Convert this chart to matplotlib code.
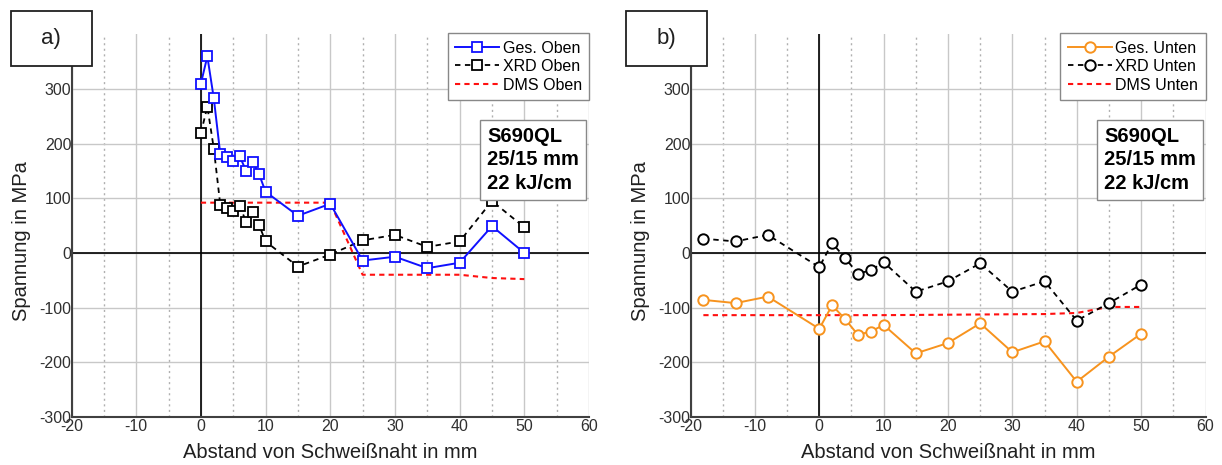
import matplotlib
matplotlib.use("Agg")
import matplotlib.pyplot as plt
from matplotlib.patches import Rectangle
from matplotlib.ticker import MultipleLocator

plt.rcParams['font.family'] = ['Liberation Sans', 'DejaVu Sans']
plt.rcParams['axes.unicode_minus'] = False

# Panel a) - Oben
x_oben = [0, 1, 2, 3, 4, 5, 6, 7, 8, 9, 10, 15, 20, 25, 30, 35, 40, 45, 50]
ges_oben = [310, 360, 283, 181, 176, 168, 177, 150, 167, 144, 112, 68, 90, -14, -7, -28, -18, 49, 0]
xrd_oben = [219, 268, 191, 88, 83, 76, 86, 57, 75, 51, 21, -25, -3, 23, 33, 11, 21, 95, 47]
x_dms_oben = [0, 20, 25, 40, 45, 50]
dms_oben = [92, 92, -40, -40, -46, -48]

# Panel b) - Unten
x_unten = [-18, -13, -8, 0, 2, 4, 6, 8, 10, 15, 20, 25, 30, 35, 40, 45, 50]
ges_unten = [-86, -92, -80, -139, -96, -121, -150, -144, -132, -184, -165, -129, -182, -162, -236, -190, -148]
xrd_unten = [26, 21, 33, -26, 18, -9, -38, -32, -17, -71, -52, -19, -71, -52, -124, -92, -58]
x_dms_unten = [-18, 10, 35, 40, 45, 50]
dms_unten = [-114, -114, -112, -110, -99, -99]

info = "S690QL\n25/15 mm\n22 kJ/cm"
xlabel = "Abstand von Schweißnaht in mm"
ylabel = "Spannung in MPa"

W, H = 1222, 465
fig = plt.figure(figsize=(W / 100, H / 100), dpi=100)

ax_a = fig.add_axes([71.5 / W, 1 - 416.7 / H, (589 - 71.5) / W, (416.7 - 34.5) / H])
ax_b = fig.add_axes([690.5 / W, 1 - 416.7 / H, (1205.5 - 690.5) / W, (416.7 - 34.5) / H])

orange = '#f7931e'


def style_axes(ax):
    ax.set_xlim(-20, 60)
    ax.set_ylim(-300, 400)
    ax.set_xticks(range(-20, 61, 10))
    ax.set_yticks(range(-300, 301, 100))
    ax.xaxis.set_minor_locator(MultipleLocator(5))
    ax.grid(which='major', color='#c8c8c8', lw=1.0, zorder=0)
    ax.grid(which='minor', axis='x', color='#b0b0b0', lw=1.0, ls=(0, (1.5, 2.5)), zorder=0)
    ax.set_axisbelow(True)
    for s in ['top', 'right']:
        ax.spines[s].set_visible(False)
    for s in ['left', 'bottom']:
        ax.spines[s].set_color('#404040')
        ax.spines[s].set_linewidth(1.5)
    ax.tick_params(which='both', length=0, labelsize=11.5, labelcolor='#303030')
    ax.tick_params(axis='x', pad=2)
    ax.tick_params(axis='y', pad=0)
    ax.axhline(0, color='black', lw=1.2, zorder=1)
    ax.axvline(0, color='black', lw=1.2, zorder=1)
    ax.set_xlabel(xlabel, fontsize=14.5, color='#202020')
    ax.xaxis.set_label_coords(0.5, -0.068)
    ax.set_ylabel(ylabel, fontsize=14.5, color='#202020')
    ax.yaxis.set_label_coords(-0.078, 0.46)
    ax.text(0.803, 0.758, info, transform=ax.transAxes, ha='left', va='top',
            fontsize=14.5, fontweight='bold', linespacing=1.3, zorder=6,
            bbox=dict(boxstyle='square,pad=0.35', fc='white', ec='#888888', lw=1.0))


# a)
ax_a.plot(x_oben, ges_oben, color='#1010ff', lw=1.4, marker='s', ms=6.5,
          mfc='white', mec='#1010ff', mew=1.3, label='Ges. Oben', zorder=4)
ax_a.plot(x_oben, xrd_oben, color='black', lw=1.3, ls=(0, (3, 2.5)), marker='s', ms=6.5,
          mfc='white', mec='black', mew=1.3, label='XRD Oben', zorder=3)
ax_a.plot(x_dms_oben, dms_oben, color='#ff1010', lw=1.5, ls=(0, (2.5, 2)),
          label='DMS Oben', zorder=2)

# b)
ax_b.plot(x_unten, ges_unten, color=orange, lw=1.4, marker='o', ms=7.5,
          mfc='white', mec=orange, mew=1.4, label='Ges. Unten', zorder=4)
ax_b.plot(x_unten, xrd_unten, color='black', lw=1.3, ls=(0, (3, 2.5)), marker='o', ms=7.5,
          mfc='white', mec='black', mew=1.4, label='XRD Unten', zorder=3)
ax_b.plot(x_dms_unten, dms_unten, color='#ff1010', lw=1.5, ls=(0, (2.5, 2)),
          label='DMS Unten', zorder=2)

for ax in (ax_a, ax_b):
    style_axes(ax)
    leg = ax.legend(loc='upper right', bbox_to_anchor=(1.0, 1.003), borderaxespad=0,
                    fontsize=11.5, handlelength=2.8, handletextpad=0.2, labelspacing=0.22,
                    borderpad=0.45, fancybox=False, framealpha=1, edgecolor='#888888')
    leg.get_frame().set_linewidth(1.0)
    leg.set_zorder(7)

# panel labels
for x0, lab in [(10.7, 'a)'), (626, 'b)')]:
    fig.patches.append(Rectangle((x0 / W, 1 - 65.7 / H), 81 / W, 55 / H,
                                 transform=fig.transFigure, fc='white', ec='#202020',
                                 lw=1.3, zorder=10))
    fig.text((x0 + 40.5) / W, 1 - 38.2 / H, lab, ha='center', va='center',
             fontsize=16, color='#202020', zorder=11)

fig.savefig("out.png", dpi=100)
